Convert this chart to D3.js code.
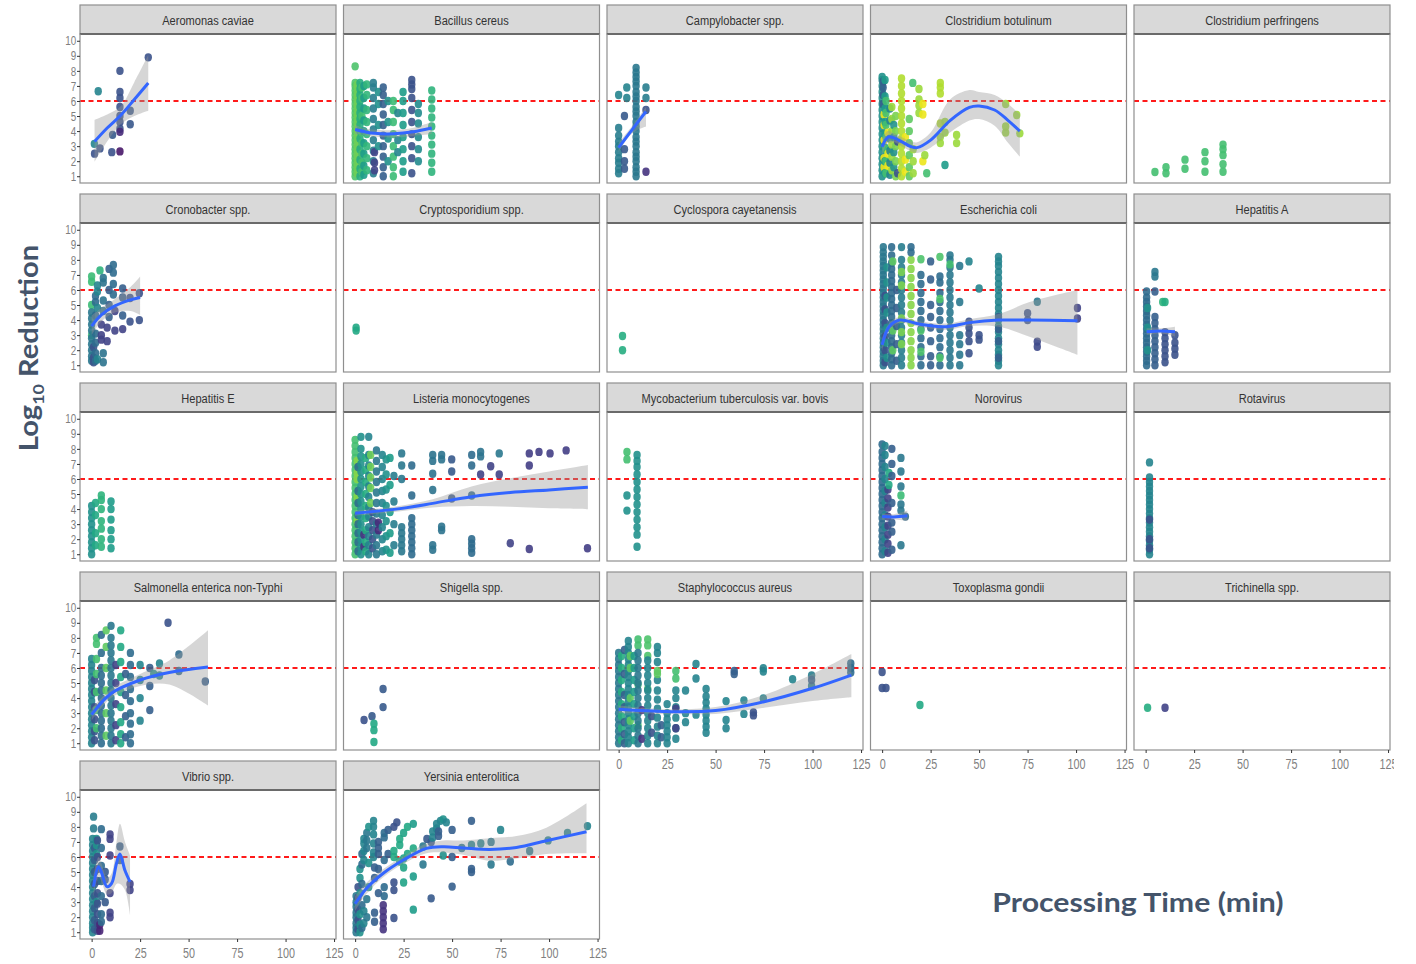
<!DOCTYPE html>
<html>
<head>
<meta charset="utf-8">
<script src="https://cdn.jsdelivr.net/npm/d3@7"></script>
<style>
  body { margin: 0; background: #fff; }
  svg { display: block; }
</style>
</head>
<body>
<svg id="chart" width="1416" height="964"></svg>
<script>
// ---- facet labels and axis ticks ----
const panelNames = [
  "Aeromonas caviae", "Bacillus cereus", "Campylobacter spp.", "Clostridium botulinum", "Clostridium perfringens",
  "Cronobacter spp.", "Cryptosporidium spp.", "Cyclospora cayetanensis", "Escherichia coli", "Hepatitis A",
  "Hepatitis E", "Listeria monocytogenes", "Mycobacterium tuberculosis var. bovis", "Norovirus", "Rotavirus",
  "Salmonella enterica non-Typhi", "Shigella spp.", "Staphylococcus aureus", "Toxoplasma gondii", "Trichinella spp.",
  "Vibrio spp.", "Yersinia enterolitica"
];
const xTicks = [0, 25, 50, 75, 100, 125];
const yTicks = [1, 2, 3, 4, 5, 6, 7, 8, 9, 10];
const threshold = 6;

// ---- observations: [minutes, colour value (0-1), [log10 reductions at that time]] ----
const ptsAeromonas = [
  [1.5, 0.25, [2.5]], [1.4, 0.45, [3.15]], [4.3, 0.25, [2.85]], [3.4, 0.45, [6.65]],
  [10.8, 0.28, [3.75]], [10.4, 0.25, [2.6]],
  [14.6, 0.25, [8.0, 6.6, 6.2, 5.6, 5.0, 4.6, 4.15]], [14.6, 0.12, [3.95]], [14.6, 0.06, [2.65]],
  [19.9, 0.27, [5.35, 4.45]], [29.2, 0.25, [8.9]]
];
const ptsBacillus = [
  [0, 0.72, [1.0, 1.3, 1.6, 1.9, 2.2, 2.5, 2.8, 3.1, 3.4, 3.7, 4.0, 4.3, 4.6, 4.9, 5.2, 5.5, 5.8, 6.1, 6.4, 6.7, 7.0, 7.2, 8.3]],
  [1, 0.78, [1.2, 1.5, 1.8, 2.1, 2.4, 2.7, 3.0, 3.3, 3.6, 3.9, 4.2, 4.5, 4.8, 5.1, 5.4, 5.7, 6.0, 6.3, 6.6, 6.9, 7.1]],
  [2.5, 0.62, [1.0, 1.5, 2.1, 2.8, 3.5, 4.0, 4.4, 4.8, 5.2, 5.6, 6.0, 6.4, 6.8, 7.2]],
  [3.5, 0.7, [1.3, 1.9, 2.5, 3.2, 3.9, 5.0, 6.2, 6.9]],
  [4.5, 0.55, [1.1, 1.7, 2.5, 3.2, 4.0, 4.7, 5.5, 6.2, 7.0]],
  [6, 0.66, [1.4, 2.2, 3.0, 3.8, 4.6, 5.4, 6.4, 7.1]],
  [9.4, 0.42, [1.2, 2.0, 2.7, 3.4, 4.1, 4.8, 5.5, 6.2, 6.9, 7.2]],
  [10, 0.2, [1.9, 2.6, 1.4]],
  [12, 0.5, [3.0, 4.4, 5.8, 6.6]],
  [14.5, 0.3, [1.0, 1.6, 2.3, 3.0, 3.7, 4.4, 5.1, 5.8, 6.4, 6.9]],
  [17, 0.5, [2.0, 3.5, 4.6, 6.0]],
  [19.7, 0.68, [1.0, 1.6, 2.3, 3.0, 3.8, 4.6, 5.4, 6.0]],
  [22, 0.45, [2.6, 3.4, 5.2]],
  [24.7, 0.55, [1.3, 2.0, 2.8, 3.6, 4.4, 5.2, 6.0, 6.6]],
  [29.2, 0.25, [1.2, 2.2, 3.0, 3.8, 4.6, 5.4, 6.2, 6.8, 7.1, 7.4]],
  [32.6, 0.48, [2.0, 2.8, 3.6, 4.5, 5.2, 5.8]],
  [39.5, 0.65, [1.3, 1.9, 2.5, 3.1, 3.7, 4.3, 4.9, 5.5, 6.1, 6.7]]
];
const ptsCampylobacter = [
  [0, 0.42, [1.2, 1.5, 1.9, 2.2, 2.6, 3.0, 3.3, 3.7, 4.2]], [0, 0.45, [6.4]],
  [3, 0.28, [5.0, 2.8, 2.0, 1.5]], [4.2, 0.45, [6.9, 6.2]],
  [9, 0.4, [1.0, 1.3, 1.6, 2.0, 2.3, 2.6, 3.0, 3.3, 3.6, 4.0, 4.3, 4.6, 5.0, 5.3, 5.6, 6.0, 6.3, 6.6, 7.0, 7.3, 7.6, 7.9, 8.2]],
  [14.1, 0.42, [6.9, 6.2]], [14.1, 0.25, [5.4]], [14.1, 0.15, [1.3]]
];
const ptsBotulinum = [
  [0, 0.5, [1.0, 1.4, 1.8, 2.2, 2.6, 3.0, 3.4, 3.8, 4.2, 4.6, 5.0, 5.4, 5.8, 6.2, 6.6, 7.0, 7.4, 7.6]],
  [0.5, 0.3, [7.3, 6.9, 6.4, 5.8]],
  [1, 0.97, [1.6, 2.2, 3.4, 4.4, 5.1]],
  [1.5, 0.55, [1.2, 2.0, 2.9, 3.8, 4.6, 5.5, 6.3, 7.4]],
  [2, 0.7, [1.2, 2.0, 2.8, 3.6, 4.4, 5.2, 6.0]],
  [3, 0.97, [1.7, 2.5, 3.9]],
  [4, 0.45, [1.1, 1.9, 2.7, 3.5, 4.7, 5.5]],
  [5, 0.85, [1.4, 2.3, 3.1, 4.0, 4.8, 5.6]],
  [6, 0.5, [1.6, 2.6, 3.6, 4.4]],
  [7, 0.8, [1.0, 2.0, 3.0, 4.0, 5.0]],
  [8, 0.25, [1.2, 3.3]],
  [10, 0.88, [1.0, 1.5, 2.0, 2.5, 3.0, 3.5, 4.0, 4.5, 5.0, 5.5, 6.0, 6.5, 7.0, 7.5]],
  [12, 0.97, [1.3, 2.1, 3.6]],
  [14, 0.75, [1.0, 1.6, 2.4, 3.2, 4.0, 4.8]],
  [15.8, 0.7, [7.2]],
  [16, 0.85, [1.2, 2.0, 2.8]],
  [19, 0.85, [6.8, 6.1, 5.7, 5.2]],
  [21, 0.97, [5.8, 5.1, 2.0]],
  [22, 0.85, [2.4]], [23, 0.7, [1.2]],
  [30, 0.88, [7.2, 6.9, 6.5, 4.5]], [30, 0.85, [3.6, 3.2]],
  [32.4, 0.55, [1.75]], [32.4, 0.85, [4.6, 3.9]],
  [38.4, 0.85, [3.74, 3.2]],
  [63.7, 0.85, [5.8, 4.3, 3.9]], [69.4, 0.85, [5.07]], [71, 0.85, [3.85]]
];
const ptsPerfringens = [
  [4.8, 0.7, [1.28]], [10.5, 0.7, [1.2, 1.6]], [20.3, 0.7, [1.5, 2.1]],
  [30.6, 0.7, [1.3, 2.0, 2.6]], [39.9, 0.7, [1.3, 1.8, 2.4, 2.8, 3.1]]
];
const ptsCronobacter = [
  [0, 0.68, [6.9, 6.55, 5.0, 3.0]],
  [0, 0.4, [1.3, 1.6, 2.0, 2.4, 2.8, 3.3, 3.7, 4.1, 4.5]],
  [1, 0.25, [1.2, 1.5, 2.2]],
  [2, 0.35, [1.3, 1.8, 2.5, 3.1, 4.3, 5.2, 5.6]],
  [3, 0.45, [1.4, 4.8, 5.9, 6.3]],
  [4.3, 0.65, [7.3]],
  [5, 0.2, [3.0, 2.7, 3.7]],
  [6, 0.38, [6.8, 6.5, 5.3, 4.6, 1.8, 1.2]],
  [8, 0.2, [3.5, 2.6]],
  [9, 0.3, [7.4, 6.0, 5.0, 4.2]],
  [11.2, 0.35, [7.66, 7.15, 6.4, 5.7]],
  [12, 0.2, [3.3, 4.6]],
  [16, 0.3, [6.1, 5.5, 4.3]], [16, 0.2, [3.4]],
  [19.8, 0.25, [5.47, 3.9]], [24.6, 0.25, [5.78, 4.0]]
];
const ptsCryptosporidium = [[0.5, 0.6, [3.3, 3.5]]];
const ptsCyclospora = [[2, 0.62, [2.94, 2.0]]];
const ptsEcoli = [
  [0.6, 0.4, [1.0, 1.3, 1.6, 1.9, 2.2, 2.5, 2.8, 3.1, 3.4, 3.7, 4.0, 4.3, 4.6, 4.9, 5.2, 5.5, 5.8, 6.1, 6.4, 6.7, 7.0, 7.3, 7.6, 7.9, 8.2, 8.5, 8.85]],
  [1.5, 0.25, [1.2, 2.0, 2.9, 3.8, 4.7, 5.6]],
  [2.5, 0.5, [1.5, 2.5, 3.5, 4.5, 5.5, 6.5, 7.5]],
  [4.9, 0.35, [1.0, 1.4, 1.8, 2.2, 2.6, 3.0, 3.4, 3.8, 4.2, 4.6, 5.0, 5.4, 5.8, 6.2, 6.6, 7.0, 7.4, 7.8, 8.3, 8.85]],
  [5.5, 0.75, [2.0, 3.3, 7.9]],
  [7.5, 0.3, [1.3, 2.4, 3.6, 4.8, 6.0]],
  [10, 0.42, [1.0, 1.5, 2.0, 2.5, 3.0, 3.5, 4.0, 4.5, 5.0, 5.5, 6.0, 6.5, 7.0, 7.5, 8.0, 8.85]],
  [10, 0.8, [2.4, 3.2, 4.1, 6.3, 7.2]],
  [14.9, 0.82, [1.0, 1.5, 2.0, 2.6, 3.2, 3.8, 4.4, 5.0, 5.6, 6.2, 6.8, 7.4, 8.0]],
  [14.9, 0.35, [8.85, 8.5]],
  [20, 0.35, [1.0, 1.6, 2.2, 2.8, 3.4, 4.0, 4.6, 5.2, 5.8, 6.4, 7.0]],
  [20, 0.72, [8.04, 3.3, 1.9]],
  [25, 0.3, [1.0, 1.6, 2.6, 3.5, 4.2, 5.0, 6.7, 7.9]],
  [29.8, 0.35, [1.0, 1.6, 2.2, 2.8, 3.4, 4.0, 4.6, 5.2, 5.8, 6.5, 6.9]],
  [29.8, 0.72, [8.2, 5.4, 1.5]],
  [35, 0.4, [1.0, 1.5, 2.0, 2.5, 3.0, 3.5, 4.0, 4.5, 5.0, 5.5, 6.0, 6.5, 7.0, 7.5, 8.0, 8.3]],
  [35, 0.7, [7.7]],
  [40, 0.4, [1.0, 1.7, 2.4, 3.0, 5.2, 7.6]],
  [44.8, 0.45, [7.9]], [44.8, 0.25, [3.9, 3.5, 3.1, 2.6, 1.8]],
  [50, 0.45, [6.1]], [50, 0.25, [3.0, 2.7]],
  [60, 0.45, [1.0, 1.3, 1.7, 2.0, 2.4, 2.8, 3.2, 3.6, 4.0, 4.4, 4.8, 5.2, 5.6, 6.0, 6.4, 6.8, 7.2, 7.6, 7.9, 8.2]],
  [60, 0.3, [1.5, 2.6, 3.4, 4.2]],
  [75, 0.25, [4.45, 4.0]],
  [80, 0.4, [5.22]], [80, 0.22, [2.57, 2.23]],
  [100.7, 0.2, [4.8, 4.1]]
];
const ptsHepA = [
  [0.5, 0.35, [1.0, 1.3, 1.6, 1.9, 2.2, 2.5, 2.8, 3.1, 3.4, 3.7, 4.0, 4.3, 4.6, 4.9, 5.2, 5.5, 5.9]],
  [1, 0.5, [2.0, 3.5, 4.8]],
  [4.8, 0.4, [7.2, 6.9]],
  [4.8, 0.3, [1.0, 1.4, 1.8, 2.2, 2.6, 3.0, 3.4, 3.8, 4.2, 5.9]],
  [8.8, 0.65, [5.2]], [10, 0.62, [5.2]],
  [10, 0.25, [1.2, 1.6, 2.0, 2.4, 2.8, 3.2]],
  [15.1, 0.25, [1.7, 2.1, 2.5, 3.0]]
];
const ptsHepE = [
  [0, 0.5, [1.0, 1.4, 1.8, 2.2, 2.6, 3.0, 3.4, 3.8, 4.2]],
  [2, 0.6, [1.6, 2.4, 3.6, 4.4]],
  [5, 0.65, [1.5, 2.0, 2.7, 3.2, 4.0, 4.6, 4.9]],
  [10, 0.55, [1.4, 2.0, 2.6, 3.3, 4.0, 4.5]]
];
const ptsListeria = [
  [0, 0.7, [1.0, 1.4, 1.8, 2.2, 2.6, 3.0, 3.4, 3.8, 4.2, 4.6, 5.0, 5.4, 5.8, 6.2, 6.6, 7.0, 7.4, 7.8, 8.2, 8.6]],
  [1, 0.82, [3.2, 4.8, 6.0, 6.4, 7.2]],
  [1.5, 0.35, [1.2, 1.8, 2.4, 3.0, 3.6, 4.4, 5.2, 6.8]],
  [3, 0.5, [1.0, 1.5, 2.0, 2.5, 3.0, 3.5, 4.0, 4.5, 5.0, 5.5, 6.0, 6.5, 7.0, 7.5, 8.0, 8.8]],
  [4.5, 0.15, [1.5, 2.3]],
  [5.5, 0.62, [1.2, 1.8, 2.6, 3.4, 4.2, 5.0, 5.8, 6.6, 7.4]],
  [7, 0.45, [1.0, 1.6, 2.2, 2.8, 3.5, 4.1, 4.8, 5.5, 6.2, 6.9, 7.6, 8.8]],
  [8, 0.78, [4.4, 5.4, 6.1, 6.8, 7.6]],
  [9, 0.25, [1.4, 2.0, 2.6, 3.2, 3.8]],
  [11, 0.4, [1.0, 1.6, 2.3, 3.0, 3.7, 4.4, 5.1, 5.8, 6.5, 7.2, 7.9]],
  [12, 0.12, [2.6, 3.1]],
  [14, 0.45, [1.2, 2.0, 2.8, 3.6, 4.4, 5.2, 6.0, 6.8, 7.6]],
  [16, 0.5, [1.3, 2.2, 3.2, 4.2, 5.3, 6.3, 7.3]],
  [18, 0.55, [1.1, 2.4, 3.8, 5.6, 7.4]],
  [20, 0.42, [1.6, 3.0, 4.5, 6.2]],
  [24, 0.4, [7.7, 6.9, 6.0, 2.8, 2.4, 2.0, 1.6, 1.2]],
  [29.2, 0.35, [6.9, 4.9, 3.4, 3.0, 2.6, 2.2, 1.8, 1.4, 1.0]],
  [40, 0.38, [7.6, 7.2, 6.35, 5.27, 1.6, 1.3]],
  [44.6, 0.38, [7.6, 7.3, 2.83, 2.6]],
  [49.8, 0.28, [7.3, 6.5, 4.7]],
  [60.1, 0.35, [7.6, 6.9, 4.9, 2.0, 1.7, 1.4, 1.1]],
  [64.7, 0.38, [7.8, 7.5]], [64.7, 0.2, [6.3]],
  [69.9, 0.2, [6.85]],
  [74.3, 0.4, [7.7]], [74.3, 0.2, [6.3]],
  [80, 0.2, [1.73]],
  [89.8, 0.18, [7.7, 6.9, 1.35]],
  [94.8, 0.18, [7.8]], [100.5, 0.18, [7.7]], [108.8, 0.18, [7.9]], [119.8, 0.18, [1.4]]
];
const ptsMycobacterium = [
  [4.3, 0.7, [7.8, 7.3]], [4.3, 0.5, [4.9, 3.9]],
  [9.5, 0.5, [1.5, 2.3, 2.8, 3.3, 3.8, 4.3, 4.8, 5.3, 5.8, 6.3, 6.8, 7.2, 7.6]]
];
const ptsNorovirus = [
  [0, 0.35, [1.0, 1.4, 1.8, 2.2, 2.6, 3.0, 3.4, 3.8, 4.2, 4.6, 5.0, 5.4, 5.8, 6.2, 6.6, 7.0, 7.4, 7.8, 8.3]],
  [1.5, 0.45, [1.2, 2.0, 2.8, 3.6, 4.4, 5.2, 6.0, 6.8, 7.6, 8.2]],
  [3, 0.2, [1.1, 1.7, 2.3, 2.9, 3.5, 4.1, 4.7, 5.3]],
  [3.5, 0.6, [6.4, 5.6]],
  [5, 0.3, [1.3, 2.5, 3.1, 4.4, 6.2, 7.0, 8.0]],
  [9.7, 0.4, [7.4, 6.5, 5.5, 4.3, 3.9, 1.6]], [9.7, 0.68, [4.9]],
  [12, 0.35, [3.5]]
];
const ptsRotavirus = [
  [2, 0.45, [1.0, 1.3, 1.6, 1.9, 2.2, 2.5, 2.8, 3.1, 3.4, 3.7, 4.0, 4.3, 4.6, 4.9, 5.2, 5.5, 5.8, 6.1, 7.1]],
  [2, 0.25, [1.4, 2.0, 3.3]]
];
const ptsSalmonella = [
  [0, 0.45, [1.0, 1.4, 1.8, 2.2, 2.6, 3.0, 3.4, 3.8, 4.2, 4.6, 5.0, 5.4, 5.8, 6.2, 6.6]],
  [1.5, 0.25, [1.2, 1.8, 2.6, 3.4, 4.4, 5.2]],
  [2.5, 0.7, [2.0, 3.2, 4.4, 5.6, 6.6, 7.6, 8.0]],
  [5, 0.35, [1.0, 1.5, 2.0, 2.5, 3.0, 3.5, 4.0, 4.5, 5.0, 5.5, 6.0, 7.0, 8.2]],
  [7.5, 0.75, [1.5, 3.0, 4.5, 6.0, 7.4, 8.5]],
  [10, 0.4, [1.0, 1.5, 2.0, 2.5, 3.0, 3.5, 4.0, 4.5, 5.0, 5.5, 6.0, 6.5, 7.0, 7.5, 8.0, 8.8]],
  [12.5, 0.2, [1.2, 2.2, 3.6, 5.0, 6.2]],
  [15, 0.6, [1.0, 1.6, 2.4, 3.4, 4.4, 5.4, 6.4, 7.4, 8.5]],
  [17.5, 0.3, [1.4, 2.8, 4.2, 5.6]],
  [20, 0.35, [1.0, 1.6, 2.3, 3.0, 3.8, 4.6, 5.4, 6.2, 7.0]],
  [25, 0.45, [2.5, 4.0, 5.2, 6.2]],
  [30, 0.3, [3.2, 4.8, 6.0]],
  [32, 0.5, [5.6]],
  [35, 0.45, [5.5, 6.3]],
  [39.4, 0.25, [9.0]],
  [45, 0.35, [5.8, 6.9]],
  [58.6, 0.3, [5.1]]
];
const ptsShigella = [
  [4.6, 0.25, [2.54]], [8.7, 0.28, [2.8]], [9.7, 0.6, [1.87, 1.08, 2.3]], [14.4, 0.28, [4.6, 3.4]]
];
const ptsStaph = [
  [0, 0.4, [1.0, 1.4, 1.8, 2.2, 2.6, 3.0, 3.4, 3.8, 4.2, 4.6, 5.0, 5.4, 5.8, 6.2, 6.6, 7.0]],
  [1.5, 0.62, [1.2, 2.0, 2.8, 3.6, 4.4, 5.2, 6.0, 6.8]],
  [3, 0.3, [1.0, 1.6, 2.4, 3.4, 4.2, 5.6, 7.2]],
  [5, 0.45, [1.0, 1.4, 1.8, 2.2, 2.6, 3.0, 3.4, 3.8, 4.2, 4.6, 5.0, 5.4, 5.8, 6.2, 6.6, 7.0, 7.4, 7.8]],
  [6, 0.75, [6.8, 6.0, 4.0, 2.5]],
  [8, 0.55, [1.2, 2.0, 2.8, 3.6, 4.4, 5.2, 6.0, 6.8]],
  [10, 0.7, [7.9, 7.5, 4.9, 2.2]],
  [10, 0.4, [1.0, 1.5, 2.0, 2.5, 3.0, 3.5, 4.0, 4.5, 5.0, 5.5, 6.0, 6.5, 7.0]],
  [12, 0.15, [1.3, 3.2]],
  [15, 0.72, [7.9, 7.5, 6.8, 4.6]],
  [15, 0.45, [1.0, 1.5, 2.0, 2.5, 3.0, 3.5, 4.0, 4.5, 5.0, 5.5, 6.0, 6.5]],
  [17, 0.25, [1.7, 2.8]],
  [20, 0.45, [1.0, 1.5, 2.1, 2.7, 3.3, 3.9, 4.5, 5.2, 6.4, 7.0, 7.4]],
  [20, 0.75, [5.8, 5.6]],
  [22, 0.3, [2.2, 1.4]],
  [25, 0.45, [1.0, 1.4, 1.8, 2.2, 2.6, 3.0, 3.6]],
  [29.5, 0.7, [5.8, 5.3]], [29.5, 0.45, [1.3, 2.0, 2.7, 3.4, 4.0, 4.5]], [29.5, 0.2, [2.0, 3.3]],
  [34.5, 0.45, [4.5, 3.0, 2.4]],
  [39.9, 0.45, [6.27, 5.3, 2.9]],
  [45.1, 0.45, [1.7, 2.1, 2.5, 2.9, 3.3, 3.7, 4.1, 4.6]],
  [55.4, 0.45, [3.8, 2.55, 2.0]],
  [59.6, 0.3, [5.8, 5.6]],
  [64.6, 0.45, [3.85, 2.95]],
  [69.5, 0.25, [3.05, 2.85]],
  [74.6, 0.45, [5.98, 5.77, 3.98]],
  [89.7, 0.45, [5.25]],
  [99.5, 0.42, [5.5, 4.8]], [99.5, 0.3, [5.2]],
  [119.7, 0.35, [6.3, 6.0, 5.7]]
];
const ptsToxoplasma = [[0, 0.25, [5.73, 4.67]], [2, 0.25, [4.67]], [19.5, 0.6, [3.54]]];
const ptsTrichinella = [[1, 0.62, [3.36]], [10, 0.2, [3.36]]];
const ptsVibrio = [
  [0.5, 0.45, [1.0, 1.3, 1.6, 2.0, 2.4, 2.8, 3.2, 3.6, 4.0, 4.4, 4.8, 5.2, 5.6, 6.0, 6.4, 6.8, 7.2]],
  [1, 0.42, [8.68, 7.9]],
  [1.5, 0.3, [1.2, 1.8, 2.6, 3.4, 4.2, 5.0, 5.8, 6.6]],
  [2.5, 0.5, [6.2, 6.8, 7.2, 3.0]],
  [3, 0.25, [1.1, 1.6, 2.2, 2.9, 3.6, 4.4, 5.2, 6.0, 7.1]],
  [4.2, 0.1, [1.1, 1.5]],
  [5, 0.35, [7.85, 6.6, 5.4, 4.4, 3.4, 2.2, 1.7]],
  [7, 0.28, [5.0, 4.5, 3.0]],
  [9.5, 0.2, [7.5, 7.2, 6.1, 3.6, 2.3, 2.0]],
  [14.6, 0.3, [6.7, 5.8]],
  [19.8, 0.2, [4.2, 3.8]]
];
const ptsYersinia = [
  [0.5, 0.4, [1.0, 1.3, 1.6, 2.0, 2.3, 2.7, 3.0, 3.4]],
  [1.5, 0.25, [1.2, 1.8, 2.5, 3.3, 4.0]],
  [2.5, 0.5, [1.0, 1.5, 2.2, 3.6, 4.6, 5.2]],
  [3.5, 0.35, [1.3, 2.8, 4.2, 5.5, 6.2]],
  [4.5, 0.45, [5.8, 6.4, 6.9, 7.2, 1.6, 2.4]],
  [6, 0.4, [6.6, 7.1, 7.6, 3.2, 2.0]],
  [7, 0.5, [8.0, 5.6, 4.0]],
  [9.5, 0.45, [8.4, 8.0, 7.5, 6.9, 6.3, 6.0]],
  [10, 0.3, [2.3, 1.7, 4.6, 5.3]],
  [12, 0.3, [6.2, 6.6, 7.0, 5.2, 3.6]],
  [14.5, 0.15, [1.2, 1.6, 2.0, 2.4, 2.8]],
  [15, 0.35, [7.3, 7.6, 5.8, 4.0, 3.4]],
  [17, 0.3, [7.8, 6.2]],
  [20, 0.25, [8.0, 1.95, 4.3, 3.8]],
  [21.5, 0.25, [8.3]],
  [20, 0.6, [6.0, 6.4]],
  [23, 0.6, [6.8, 7.2, 5.7]],
  [25, 0.58, [7.6, 5.9, 4.3, 5.3]],
  [27, 0.6, [8.0, 6.2]],
  [30, 0.55, [8.2, 4.7, 2.5]], [30, 0.6, [6.57]],
  [35, 0.4, [6.7, 5.5]],
  [37, 0.28, [7.2]],
  [39.2, 0.28, [7.0, 3.25]],
  [40, 0.45, [7.3, 7.7]],
  [42, 0.45, [7.9, 8.2]],
  [43, 0.3, [7.7, 7.4]],
  [44, 0.45, [8.4]],
  [45.4, 0.5, [8.5, 6.1]],
  [47, 0.45, [8.3]],
  [50, 0.3, [7.8, 6.0, 4.03]],
  [55, 0.4, [6.6]],
  [60, 0.3, [8.4, 5.2, 5.0]], [60, 0.45, [6.8]],
  [64.8, 0.45, [6.9]],
  [70.1, 0.4, [7.0, 5.5]],
  [75, 0.45, [7.8]],
  [80, 0.35, [5.7]],
  [90, 0.4, [6.4]],
  [99.5, 0.45, [7.1]],
  [109.5, 0.45, [7.6]],
  [119.8, 0.45, [8.05]]
];

// ---- smoothed trend with confidence band: [minutes, fit, lower, upper] ----
const fitAeromonas = [[1.5, 3.3, 1.95, 4.75], [8, 4.2, 3.3, 5.1], [15, 5.05, 4.45, 5.65], [22, 6.1, 5.0, 7.25], [29.2, 7.2, 5.35, 9.05]];
const fitBacillus = [[0, 4.1, 3.8, 4.4], [5, 3.95, 3.72, 4.18], [10, 3.85, 3.62, 4.08], [20, 3.82, 3.58, 4.06], [30, 3.95, 3.68, 4.22], [39.5, 4.2, 3.8, 4.6]];
const fitCampylobacter = [[0, 2.9, 2.6, 3.2], [7, 4.1, 3.85, 4.35], [14.1, 5.3, 4.3, 5.6]];
const fitBotulinum = [[0, 2.96, 2.4, 3.5], [3, 3.6, 3.2, 4.0], [6, 3.55, 3.25, 3.85], [10, 3.3, 3.0, 3.6], [15, 2.96, 2.65, 3.3], [18, 2.9, 2.55, 3.25], [25, 3.4, 2.9, 3.9], [35, 4.7, 3.9, 6.1], [45, 5.58, 4.7, 6.73], [50, 5.67, 4.8, 6.6], [58, 5.4, 4.35, 6.4], [65, 4.7, 3.2, 5.8], [71, 4.0, 2.3, 5.1]];
const fitCronobacter = [[0, 3.6, 3.0, 4.3], [5, 4.34, 3.9, 4.8], [12, 4.94, 4.5, 5.4], [20, 5.34, 4.6, 6.2], [25, 5.5, 4.34, 6.9]];
const fitEcoli = [[0, 2.35, 1.9, 2.8], [3.6, 3.56, 3.3, 3.8], [9, 4.0, 3.8, 4.2], [19, 3.74, 3.55, 3.93], [33, 3.56, 3.35, 3.77], [45, 3.83, 3.6, 4.06], [60, 4.0, 3.55, 4.4], [76, 4.0, 2.9, 5.2], [100.7, 3.95, 1.7, 6.0]];
const fitHepA = [[0.5, 3.23, 3.0, 3.45], [8, 3.28, 3.1, 3.45], [15.1, 3.22, 2.9, 3.55]];
const fitListeria = [[0, 3.72, 3.55, 3.9], [20, 3.98, 3.8, 4.16], [40, 4.38, 4.1, 4.66], [60, 4.82, 4.2, 5.5], [80, 5.1, 4.15, 6.05], [100, 5.27, 4.05, 6.5], [120, 5.45, 3.99, 6.93]];
const fitNorovirus = [[0, 3.5, 3.3, 3.7], [6, 3.48, 3.3, 3.66], [13, 3.55, 3.2, 3.9]];
const fitSalmonella = [[0, 2.9, 2.5, 3.3], [10, 4.3, 4.0, 4.6], [25, 5.2, 4.8, 5.6], [40, 5.7, 4.9, 6.5], [60, 6.07, 3.5, 8.5]];
const fitStaph = [[0, 3.25, 3.0, 3.5], [25, 3.1, 2.95, 3.25], [50, 3.17, 2.95, 3.4], [75, 3.76, 3.35, 4.2], [100, 4.65, 3.8, 5.6], [120, 5.53, 4.05, 6.93]];
const fitVibrio = [[1, 4.03, 3.3, 4.8], [3.5, 5.35, 4.7, 6.0], [5, 5.0, 4.4, 5.6], [7.9, 4.03, 3.5, 4.6], [10.3, 4.24, 3.6, 4.9], [12.8, 5.57, 4.2, 7.0], [14.6, 6.2, 4.2, 8.2], [17.2, 5.1, 3.8, 7.0], [19.8, 4.35, 2.15, 6.1]];
const fitYersinia = [[0, 2.88, 2.4, 3.4], [5.9, 3.92, 3.55, 4.3], [14.5, 4.92, 4.65, 5.2], [24.9, 5.8, 5.55, 6.05], [36.8, 6.57, 6.25, 6.9], [45.4, 6.68, 6.3, 7.1], [55.7, 6.6, 6.15, 7.1], [69.4, 6.5, 5.75, 7.25], [83.2, 6.63, 5.9, 7.4], [98.6, 7.08, 6.2, 7.95], [119.3, 7.68, 6.25, 9.57]];

const panelPoints = [
  ptsAeromonas, ptsBacillus, ptsCampylobacter, ptsBotulinum, ptsPerfringens,
  ptsCronobacter, ptsCryptosporidium, ptsCyclospora, ptsEcoli, ptsHepA,
  ptsHepE, ptsListeria, ptsMycobacterium, ptsNorovirus, ptsRotavirus,
  ptsSalmonella, ptsShigella, ptsStaph, ptsToxoplasma, ptsTrichinella,
  ptsVibrio, ptsYersinia
];
const panelFits = [
  fitAeromonas, fitBacillus, fitCampylobacter, fitBotulinum, null,
  fitCronobacter, null, null, fitEcoli, fitHepA,
  null, fitListeria, null, fitNorovirus, null,
  fitSalmonella, null, fitStaph, null, null,
  fitVibrio, fitYersinia
];

// ---- layout ----
const W = 1416, H = 964;
const nCol = 5;
const L = { left: 80, colStep: 263.5, top: 5, rowStep: 189, w: 256, strip: 29, plotH: 149 };
const textSquash = 0.82;

const svg = d3.select("#chart");
svg.append("rect").attr("width", W).attr("height", H).attr("fill", "#fff");

const x = d3.scaleLinear().domain([-6, 126]).range([0, L.w]);
const y = d3.scaleLinear().domain([0.55, 10.45]).range([L.plotH, 0]);

const band = d3.area().x(d => x(d[0])).y0(d => y(d[2])).y1(d => y(d[3])).curve(d3.curveCatmullRom);
const trend = d3.line().x(d => x(d[0])).y(d => y(d[1])).curve(d3.curveCatmullRom);

const defs = svg.append("defs");
defs.append("clipPath").attr("id", "plotClip")
  .append("rect").attr("x", 0).attr("y", 0).attr("width", L.w).attr("height", L.plotH);
defs.append("clipPath").attr("id", "figureClip")
  .append("rect").attr("x", 0).attr("y", 0).attr("width", 1394).attr("height", H);

const chart = svg.append("g").attr("clip-path", "url(#figureClip)");

panelNames.forEach((name, i) => {
  const col = i % nCol, row = Math.floor(i / nCol);
  const g = chart.append("g")
    .attr("transform", `translate(${L.left + col * L.colStep},${L.top + row * L.rowStep})`);

  // strip
  g.append("rect").attr("x", 0).attr("y", 0).attr("width", L.w).attr("height", L.strip)
    .attr("fill", "#d9d9d9").attr("stroke", "#8f8f8f").attr("stroke-width", 1.2);
  g.append("line").attr("x1", 0).attr("x2", L.w).attr("y1", L.strip).attr("y2", L.strip)
    .attr("stroke", "#333").attr("stroke-width", 2);
  g.append("text")
    .attr("transform", `translate(${L.w / 2},${L.strip / 2 + 5}) scale(${textSquash},1)`)
    .attr("text-anchor", "middle")
    .attr("font-family", "'Liberation Sans', Arial, sans-serif")
    .attr("font-size", 13.5).attr("fill", "#333")
    .text(name);

  const plot = g.append("g").attr("transform", `translate(0,${L.strip})`);
  const inner = plot.append("g").attr("clip-path", "url(#plotClip)");

  inner.append("line")
    .attr("x1", 0).attr("x2", L.w).attr("y1", y(threshold)).attr("y2", y(threshold))
    .attr("stroke", "#ff1a1a").attr("stroke-width", 2).attr("stroke-dasharray", "5,3.5");

  const pts = panelPoints[i].flatMap(([t, c, ys]) => ys.map(v => [t, v, c]));
  inner.append("g").selectAll("ellipse").data(pts).join("ellipse")
    .attr("cx", d => x(d[0])).attr("cy", d => y(d[1]))
    .attr("rx", 3.7).attr("ry", 4.2)
    .attr("fill", d => d3.interpolateViridis(d[2]))
    .attr("fill-opacity", 0.9);

  const fit = panelFits[i];
  if (fit) {
    inner.append("path").datum(fit).attr("d", band)
      .attr("fill", "#999").attr("fill-opacity", 0.4);
    inner.append("path").datum(fit).attr("d", trend)
      .attr("fill", "none").attr("stroke", "#3366ff").attr("stroke-width", 3);
  }

  plot.append("rect").attr("x", 0).attr("y", 0).attr("width", L.w).attr("height", L.plotH)
    .attr("fill", "none").attr("stroke", "#8f8f8f").attr("stroke-width", 1.2);

  if (col === 0) {
    const ax = plot.append("g").call(d3.axisLeft(y).tickValues(yTicks).tickSize(3).tickPadding(2));
    ax.select(".domain").remove();
    ax.selectAll("line").attr("stroke", "#333");
    ax.selectAll("text")
      .attr("transform", "scale(0.76,1)")
      .attr("font-family", "'Liberation Sans', Arial, sans-serif")
      .attr("font-size", 13).attr("fill", "#7f7f7f");
  }
  if (i + nCol >= panelNames.length) {
    const ax = plot.append("g").attr("transform", `translate(0,${L.plotH})`)
      .call(d3.axisBottom(x).tickValues(xTicks).tickSize(3).tickPadding(5));
    ax.select(".domain").remove();
    ax.selectAll("line").attr("stroke", "#333");
    ax.selectAll("text")
      .attr("transform", "scale(0.72,1)")
      .attr("font-family", "'Liberation Sans', Arial, sans-serif")
      .attr("font-size", 15).attr("fill", "#7f7f7f");
  }
});

// ---- axis titles ----
const yTitle = svg.append("text")
  .attr("transform", "translate(38,348) rotate(-90) scale(1.12,1)")
  .attr("text-anchor", "middle")
  .attr("font-family", "Lato, 'Open Sans', sans-serif")
  .attr("font-weight", 700).attr("font-size", 26).attr("fill", "#44546a");
yTitle.append("tspan").text("Log");
yTitle.append("tspan").attr("font-size", 16).attr("dy", 6).text("10");
yTitle.append("tspan").attr("dy", -6).text(" Reduction");

svg.append("text")
  .attr("transform", "translate(1138,912) scale(1.12,1)")
  .attr("text-anchor", "middle")
  .attr("font-family", "Lato, 'Open Sans', sans-serif")
  .attr("font-weight", 700).attr("font-size", 27).attr("fill", "#44546a")
  .text("Processing Time (min)");
</script>
</body>
</html>
